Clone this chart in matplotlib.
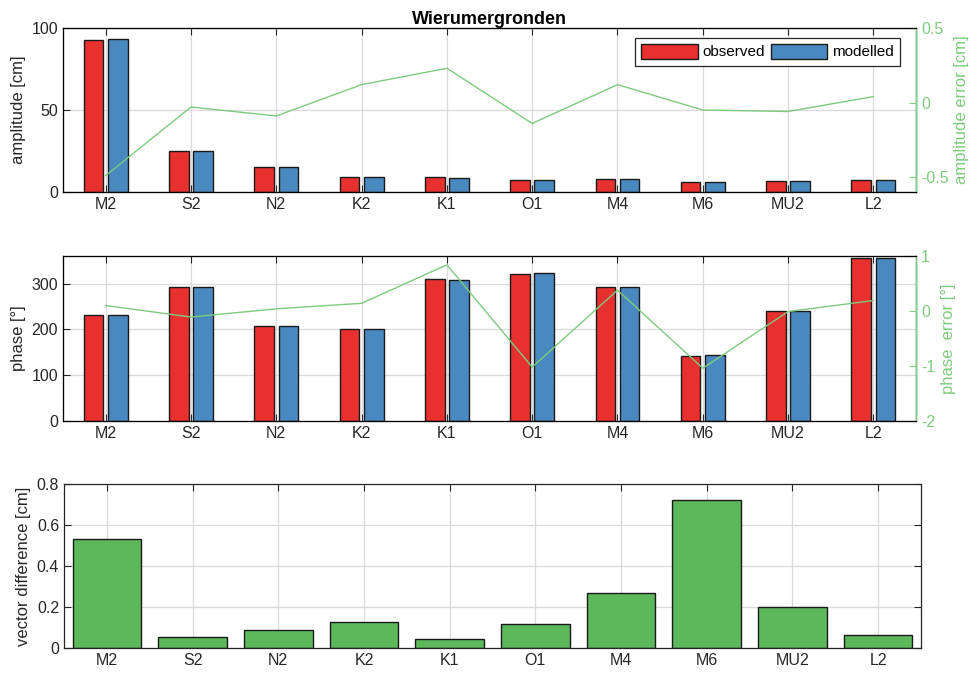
import numpy as np
import matplotlib
matplotlib.use("Agg")
import matplotlib.pyplot as plt
from matplotlib.ticker import FuncFormatter
from matplotlib.patches import Patch

plt.rcParams['font.family'] = ['Liberation Sans', 'DejaVu Sans']
plt.rcParams['axes.unicode_minus'] = False

# ---- data ----
constituents = ["M2", "S2", "N2", "K2", "K1", "O1", "M4", "M6", "MU2", "L2"]
amp_observed = [92.8, 25.2, 15.0, 9.1, 8.9, 7.1, 7.9, 6.1, 6.7, 7.3]
amp_modelled = [93.2, 25.2, 15.0, 9.1, 8.5, 7.3, 8.0, 6.1, 6.7, 7.3]
amp_error = [-0.49, -0.03, -0.09, 0.12, 0.23, -0.14, 0.12, -0.05, -0.06, 0.04]
phase_observed = [232, 292.6, 208.3, 200.2, 309.4, 321.8, 293.4, 142.8, 241, 355]
phase_modelled = [232, 292.6, 208.3, 200.2, 308.7, 322.0, 293.4, 144.0, 241, 355]
phase_error = [0.10, -0.11, 0.04, 0.14, 0.84, -1.02, 0.38, -1.04, -0.01, 0.19]
vector_diff = [0.531, 0.054, 0.090, 0.129, 0.044, 0.119, 0.266, 0.723, 0.199, 0.064]
title = "Wierumergronden"

RED = "#E8302F"
BLUE = "#4A89C0"
GREEN_LINE = "#7DCB7D"
GREEN_BAR = "#5DB85C"
DARK = "#262626"
GRID = "#DADADA"

x = np.arange(1, len(constituents) + 1)
fig = plt.figure(figsize=(9.74, 6.75), dpi=100)

fs = 11.5

def style_left(ax, ylim, yticks):
    ax.set_xlim(0.5, len(constituents) + 0.5)
    ax.set_xticks(x)
    ax.set_xticklabels(constituents, fontsize=fs, color=DARK)
    ax.set_ylim(*ylim)
    ax.set_yticks(yticks)
    ax.yaxis.set_major_formatter(FuncFormatter(lambda v, p: "%g" % v))
    ax.tick_params(axis='both', direction='in', length=5, width=0.8,
                   colors=DARK, labelsize=fs, top=True)
    ax.grid(True, color=GRID, linewidth=0.9)
    ax.set_axisbelow(True)
    for s in ax.spines.values():
        s.set_color(DARK)
        s.set_linewidth(0.9)

def style_right(ax2, ylim, yticks, label):
    ax2.set_ylim(*ylim)
    ax2.set_yticks(yticks)
    ax2.yaxis.set_major_formatter(FuncFormatter(lambda v, p: "%g" % v))
    ax2.tick_params(axis='y', direction='in', length=5, width=0.8,
                    colors=GREEN_LINE, labelsize=fs)
    ax2.spines['right'].set_color(GREEN_LINE)
    ax2.spines['right'].set_linewidth(1.0)
    ax2.set_ylabel(label, color=GREEN_LINE, fontsize=12)

bw = 0.23
off = 0.142

# ---- top panel: amplitude ----
ax1 = fig.add_axes([0.0647, 0.7156, 0.8758, 0.2429])
style_left(ax1, (0, 100), [0, 50, 100])
ax1.bar(x - off, amp_observed, width=bw, color=RED, edgecolor='#1a1a1a', linewidth=1.0)
ax1.bar(x + off, amp_modelled, width=bw, color=BLUE, edgecolor='#1a1a1a', linewidth=1.0)
ax1.set_ylabel("amplitude [cm]", fontsize=12, color=DARK)
ax1.set_title(title, fontsize=13, fontweight='bold', color='black', pad=3)
handles = [Patch(facecolor=RED, edgecolor='#1a1a1a', label='observed'),
           Patch(facecolor=BLUE, edgecolor='#1a1a1a', label='modelled')]
leg = ax1.legend(handles=handles, ncol=2, loc='upper right',
                 bbox_to_anchor=(0.981, 0.942), fontsize=11, frameon=True,
                 fancybox=False, framealpha=1, edgecolor=DARK,
                 handlelength=3.7, handleheight=1.15, handletextpad=0.3,
                 columnspacing=0.4, borderpad=0.4, borderaxespad=0)
leg.get_frame().set_linewidth(0.9)
ax1b = ax1.twinx()
ax1b.plot(x, amp_error, color=GREEN_LINE, linewidth=1.0)
style_right(ax1b, (-0.6, 0.5), [-0.5, 0, 0.5], "amplitude error [cm]")

# ---- middle panel: phase ----
ax2 = fig.add_axes([0.0647, 0.3763, 0.8758, 0.2444])
style_left(ax2, (0, 360), [0, 100, 200, 300])
ax2.bar(x - off, phase_observed, width=bw, color=RED, edgecolor='#1a1a1a', linewidth=1.0)
ax2.bar(x + off, phase_modelled, width=bw, color=BLUE, edgecolor='#1a1a1a', linewidth=1.0)
ax2.set_ylabel("phase [°]", fontsize=12, color=DARK)
ax2b = ax2.twinx()
ax2b.plot(x, phase_error, color=GREEN_LINE, linewidth=1.0)
style_right(ax2b, (-2, 1), [-2, -1, 0, 1], "phase  error [°]")

# ---- bottom panel: vector difference ----
ax3 = fig.add_axes([0.0657, 0.04, 0.8799, 0.2430])
style_left(ax3, (0, 0.8), [0, 0.2, 0.4, 0.6, 0.8])
ax3.tick_params(axis='y', right=True)
ax3.bar(x, vector_diff, width=0.8, color=GREEN_BAR, edgecolor='#1a1a1a', linewidth=1.0)
ax3.set_ylabel("vector difference [cm]", fontsize=12, color=DARK)

fig.savefig("out.png", dpi=100)
